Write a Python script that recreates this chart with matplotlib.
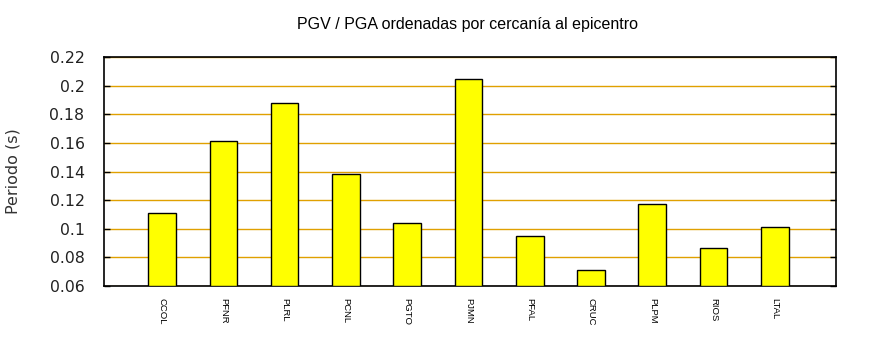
import matplotlib.pyplot as plt

estaciones = ['CCOL', 'PFNR', 'PLRL', 'PCNL', 'PGTO', 'PJMN', 'PFAL', 'CRUC', 'PLPM', 'RIOS', 'LTAL']
periodo = [0.111, 0.161, 0.188, 0.138, 0.104, 0.205, 0.095, 0.071, 0.117, 0.0865, 0.101]
yticks = [0.06, 0.08, 0.1, 0.12, 0.14, 0.16, 0.18, 0.2, 0.22]
ytick_labels = ['0.06', '0.08', '0.1', '0.12', '0.14', '0.16', '0.18', '0.2', '0.22']

fig = plt.figure(figsize=(8.7, 3.5), dpi=100)
ax = fig.add_axes([0.1195, 0.183, 0.8415, 0.654])

pos = list(range(1, len(estaciones) + 1))
ax.bar(pos, [v - 0.06 for v in periodo], bottom=0.06, width=0.45,
       color='#ffff00', edgecolor='black', linewidth=1.0, zorder=3)

ax.set_xlim(0.05, 12.0)
ax.set_ylim(0.06, 0.22)
ax.set_yticks(yticks)
ax.set_yticklabels(ytick_labels, fontsize=11.3, color='#222222')
ax.yaxis.grid(True, color='#e0a000', linewidth=1.0, zorder=0)
ax.tick_params(axis='y', direction='in', length=4, width=1, right=True, pad=14)

ax.set_xticks(pos)
ax.set_xticklabels(estaciones, rotation=270, fontsize=6.8, family='Liberation Sans')
ax.tick_params(axis='x', length=0, pad=8.5)

for s in ax.spines.values():
    s.set_linewidth(1.2)

fig.text(0.015, 0.51, 'Periodo (s)', rotation=90, ha='center', va='center',
         fontsize=11.5, color='#333333')
fig.text(0.537, 0.929, 'PGV / PGA ordenadas por cercanía al epicentro',
         ha='center', va='center', fontsize=11.5, family='Liberation Sans')

fig.savefig('out.png', dpi=100)
